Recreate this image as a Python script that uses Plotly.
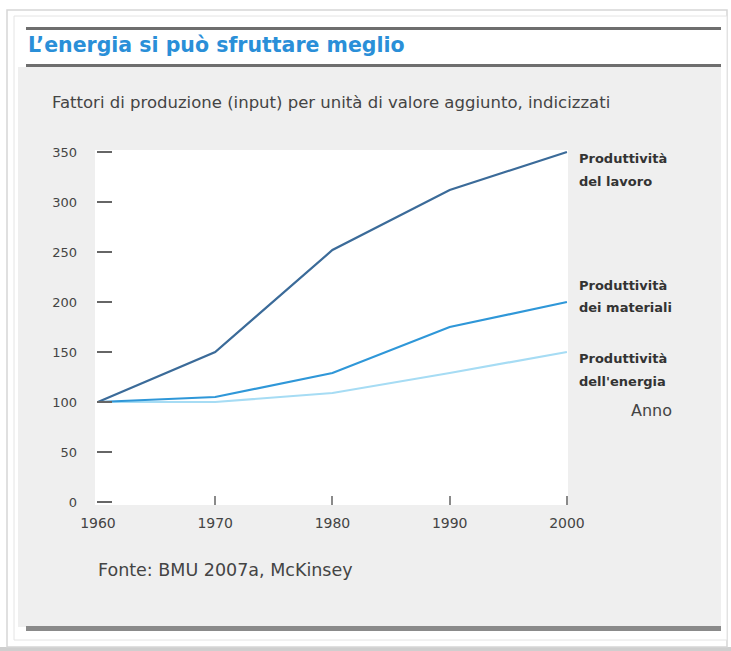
import plotly.graph_objects as go

# ---- data ----
anni = [1960, 1970, 1980, 1990, 2000]
lavoro = [100, 150, 252, 312, 350]
materiali = [100, 105, 129, 175, 200]
energia = [100, 100, 109, 129, 150]
y_ticks = [0, 50, 100, 150, 200, 250, 300, 350]

titolo = "L\u2019energia si può sfruttare meglio"
sottotitolo = "Fattori di produzione (input) per unità di valore aggiunto, indicizzati"
fonte = "Fonte: BMU 2007a, McKinsey"
etichette = [("Produttività", "del lavoro"), ("Produttività", "dei materiali"), ("Produttività", "dell'energia")]
asse_x = "Anno"

# ---- layout geometry (pixels) ----
W, H = 731, 651
L, R, T, B = 97, 568, 150, 505
PW, PH = R - L, B - T

def px(x):
    return (x - L) / PW

def py(y):
    return (B - y) / PH

FONT = "DejaVu Sans"
TXT = "#444444"

fig = go.Figure()
colors = ["#3b6b99", "#2f97d8", "#a6dcf4"]
for vals, c in zip([energia, materiali, lavoro], [colors[2], colors[1], colors[0]]):
    fig.add_trace(go.Scatter(x=anni, y=vals, mode="lines",
                             line=dict(color=c, width=2.2), hoverinfo="skip",
                             showlegend=False))

shapes = []
def rect(x0, y0, x1, y1, fill, line_color=None, lw=0):
    shapes.append(dict(type="rect", xref="paper", yref="paper",
                       x0=px(x0), x1=px(x1), y0=py(y1), y1=py(y0),
                       fillcolor=fill,
                       line=dict(color=line_color or fill, width=lw),
                       layer="below"))

# frame and shadow
rect(0, 647, 731, 651, "#cfcfcf")
rect(7, 10, 727, 647, "#ffffff", "#d6d6d6", 1.5)
rect(14, 16, 727, 640, "#ffffff", "#e4e4e4", 1)
# grey panel
rect(18, 67, 721, 627, "#efefef")
# dark rules
rect(26, 27, 721, 30, "#6e6e6e")
rect(26, 64, 721, 67, "#6e6e6e")
rect(26, 626, 721, 631, "#8a8a8a")
# white plot area
rect(95, 150, 568, 505, "#ffffff")

annotations = [
    dict(text=titolo, x=px(26), y=py(45), xanchor="left", yanchor="middle",
         font=dict(family=FONT, size=20.5, color="#2a8fd8", weight="bold")),
    dict(text=sottotitolo, x=px(50), y=py(103), xanchor="left", yanchor="middle",
         font=dict(family=FONT, size=16.5, color=TXT)),
    dict(text=fonte, x=px(96), y=py(570), xanchor="left", yanchor="middle",
         font=dict(family=FONT, size=17.5, color=TXT)),
    dict(text=asse_x, x=px(674), y=py(410), xanchor="right", yanchor="middle",
         font=dict(family=FONT, size=16, color=TXT)),
]
label_y = [(158, 181), (285, 307), (358, 381)]
for (l1, l2), (y1, y2) in zip(etichette, label_y):
    for t, yy in ((l1, y1), (l2, y2)):
        annotations.append(dict(text=t, x=px(577), y=py(yy), xanchor="left", yanchor="middle",
                                font=dict(family=FONT, size=13, color="#333333", weight="bold")))
for a in annotations:
    a.update(xref="paper", yref="paper", showarrow=False)

fig.update_layout(
    width=W, height=H,
    margin=dict(l=L, r=W - R, t=T, b=H - B, pad=0),
    paper_bgcolor="#ffffff", plot_bgcolor="rgba(0,0,0,0)",
    shapes=shapes, annotations=annotations,
    xaxis=dict(range=[1959.92, 2000.09], tickvals=anni, ticks="inside", ticklen=9,
               tickwidth=1.5, tickcolor="#8a8a8a", showgrid=False, zeroline=False,
               showline=False, ticklabelstandoff=8,
               tickfont=dict(family=FONT, size=14, color=TXT)),
    yaxis=dict(range=[-3, 352], tickvals=y_ticks, ticks="inside", ticklen=15,
               tickwidth=2, tickcolor="#666666", showgrid=False, zeroline=False,
               showline=False, ticklabelstandoff=19,
               tickfont=dict(family=FONT, size=13, color=TXT)),
)

fig.write_html("out.html", config={"displayModeBar": False},
               post_script="document.body.style.margin='0';")
